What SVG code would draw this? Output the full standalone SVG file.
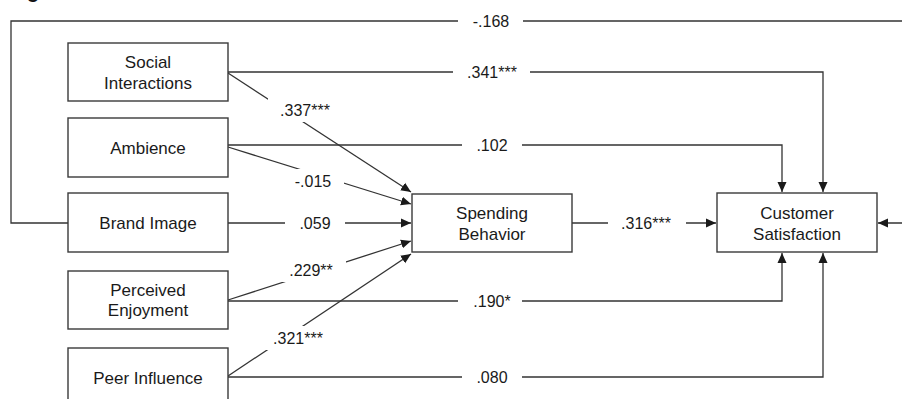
<svg xmlns="http://www.w3.org/2000/svg" width="902" height="399" viewBox="0 0 902 399">
  <style>
    .box { fill: #ffffff; stroke: #3a3a3a; stroke-width: 1.4; }
    .lbl { font-family: "Liberation Sans", Arial, sans-serif; font-size: 17px; fill: #1a1a1a; text-anchor: middle; }
    .coef { font-family: "Liberation Sans", Arial, sans-serif; font-size: 16px; fill: #1a1a1a; text-anchor: middle; }
    .ln { fill: none; stroke: #333333; stroke-width: 1.3; }
    .gap { fill: #ffffff; }
  </style>
  <defs>
    <marker id="arr" viewBox="0 0 10 10" refX="10" refY="5" markerWidth="10" markerHeight="10" markerUnits="userSpaceOnUse" orient="auto">
      <path d="M0,0.5 L10,5 L0,9.5 Z" fill="#1a1a1a"/>
    </marker>
  </defs>
  <rect width="902" height="399" fill="#ffffff"/>

  <!-- heading fragment -->
  <text x="33" y="-2" font-family="Liberation Sans, Arial, sans-serif" font-size="20" font-weight="bold" fill="#111" text-anchor="middle">g</text>

  <g id="connectors">
    <!-- Brand Image loop to Customer Satisfaction -->
    <path class="ln" d="M68,223 H11 V21 H910 V223 H878" marker-end="url(#arr)"/>
    <!-- direct paths to Customer Satisfaction -->
    <path class="ln" d="M228,72 H823 V192" marker-end="url(#arr)"/>
    <path class="ln" d="M228,145 H782 V192" marker-end="url(#arr)"/>
    <path class="ln" d="M228,301 H782 V253" marker-end="url(#arr)"/>
    <path class="ln" d="M228,377 H823 V253" marker-end="url(#arr)"/>
    <!-- paths to Spending Behavior -->
    <path class="ln" d="M228,73 L411,192" marker-end="url(#arr)"/>
    <path class="ln" d="M228,147 L411,204" marker-end="url(#arr)"/>
    <path class="ln" d="M228,223 L411,223" marker-end="url(#arr)"/>
    <path class="ln" d="M228,300 L411,241" marker-end="url(#arr)"/>
    <path class="ln" d="M228,376 L411,254" marker-end="url(#arr)"/>
    <!-- mediator path -->
    <path class="ln" d="M572,223 L716,223" marker-end="url(#arr)"/>

    <!-- coefficient labels -->
    <rect class="gap" x="458" y="10" width="65" height="22"/>
    <text class="coef" x="491" y="27">-.168</text>
    <rect class="gap" x="453" y="61" width="77" height="22"/>
    <text class="coef" x="492" y="78">.341***</text>
    <rect class="gap" x="462" y="134" width="60" height="22"/>
    <text class="coef" x="492" y="151">.102</text>
    <rect class="gap" x="458" y="290" width="64" height="22"/>
    <text class="coef" x="492" y="307">.190*</text>
    <rect class="gap" x="462" y="366" width="60" height="22"/>
    <text class="coef" x="492" y="383">.080</text>
    <rect class="gap" x="608" y="212" width="78" height="22"/>
    <text class="coef" x="646" y="229">.316***</text>
    <rect class="gap" x="285" y="212" width="60" height="22"/>
    <text class="coef" x="315" y="229">.059</text>
    <rect class="gap" x="268" y="98" width="72" height="24"/>
    <text class="coef" x="305" y="116">.337***</text>
    <rect class="gap" x="286" y="169" width="58" height="24"/>
    <text class="coef" x="313" y="187">-.015</text>
    <rect class="gap" x="282" y="258" width="64" height="24"/>
    <text class="coef" x="311" y="276">.229**</text>
    <rect class="gap" x="264" y="326" width="70" height="24"/>
    <text class="coef" x="298" y="344">.321***</text>
  </g>

  <g id="social-interactions">
    <rect class="box" x="68" y="43" width="160" height="58"/>
    <text class="lbl" x="148" y="68">Social</text>
    <text class="lbl" x="148" y="89">Interactions</text>
  </g>
  <g id="ambience">
    <rect class="box" x="68" y="118" width="160" height="59"/>
    <text class="lbl" x="148" y="154">Ambience</text>
  </g>
  <g id="brand-image">
    <rect class="box" x="68" y="193" width="160" height="59"/>
    <text class="lbl" x="148" y="229">Brand Image</text>
  </g>
  <g id="perceived-enjoyment">
    <rect class="box" x="68" y="271" width="160" height="58"/>
    <text class="lbl" x="148" y="296">Perceived</text>
    <text class="lbl" x="148" y="316">Enjoyment</text>
  </g>
  <g id="peer-influence">
    <rect class="box" x="68" y="348" width="160" height="70"/>
    <text class="lbl" x="148" y="384">Peer Influence</text>
  </g>
  <g id="spending-behavior">
    <rect class="box" x="412" y="194" width="160" height="58"/>
    <text class="lbl" x="492" y="219">Spending</text>
    <text class="lbl" x="492" y="240">Behavior</text>
  </g>
  <g id="customer-satisfaction">
    <rect class="box" x="717" y="193" width="160" height="59"/>
    <text class="lbl" x="797" y="219">Customer</text>
    <text class="lbl" x="797" y="240">Satisfaction</text>
  </g>
</svg>
